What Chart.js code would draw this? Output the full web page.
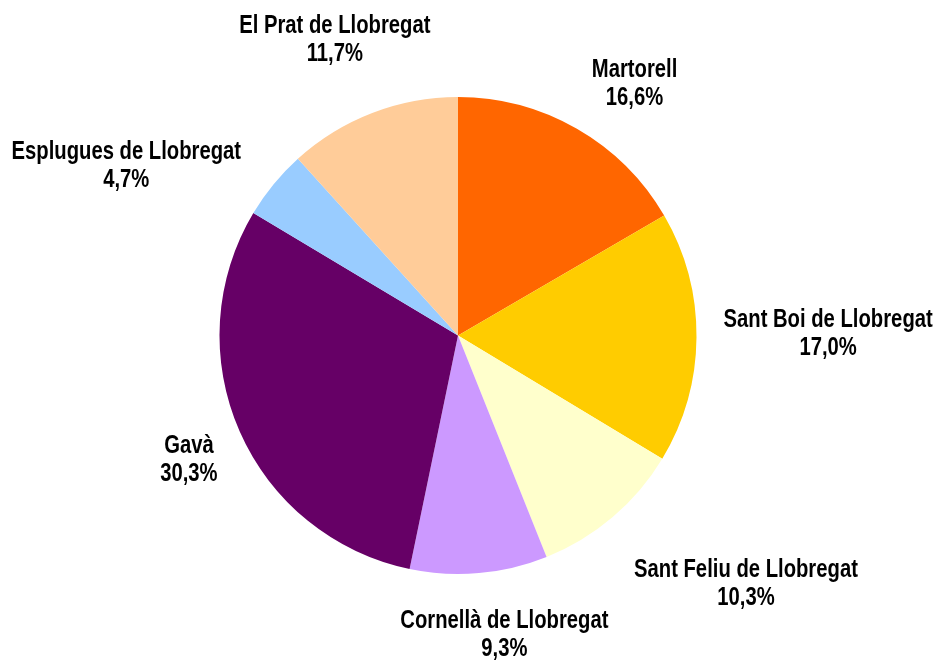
<!DOCTYPE html>
<html>
<head>
<meta charset="utf-8">
<script src="https://cdn.jsdelivr.net/npm/chart.js@4.4.1/dist/chart.umd.min.js"></script>
<style>
  html, body { margin: 0; padding: 0; background: #ffffff; }
  #wrap { width: 938px; height: 661px; }
</style>
</head>
<body>
<div id="wrap"><canvas id="pie" width="938" height="661"></canvas></div>
<script>
// municipis (sentit horari des de dalt)
var categories = ["Martorell", "Sant Boi de Llobregat", "Sant Feliu de Llobregat", "Cornellà de Llobregat", "Gavà", "Esplugues de Llobregat", "El Prat de Llobregat"];
var values = [16.6, 17.0, 10.3, 9.3, 30.3, 4.7, 11.7];
var colors = ["#ff6600", "#ffcc00", "#ffffcc", "#cc99ff", "#660066", "#99ccff", "#ffcc99"];

// petits desplaçaments manuals de les etiquetes (px)
var labelNudge = [[3, 0], [3, -4], [6, 27], [5, 10], [0, 8], [-14, 15], [40, -24]];

var labelFont = 'bold 25px "Liberation Sans", Arial, sans-serif';
var narrow = 0.81; //condensat tipus Arial Narrow

//etiquetes fora del pastís
var outsideLabels = {
    id: 'outsideLabels',
    afterDatasetsDraw: function(chart) {
        var ctx = chart.ctx;
        var meta = chart.getDatasetMeta(0);
        var lineH = 28;
        var gap = 24;
        ctx.save();
        ctx.font = labelFont;
        ctx.fillStyle = '#000000';
        ctx.textAlign = 'center';
        ctx.textBaseline = 'middle';
        var drawLine = function(txt, x, y) {
            ctx.save();
            ctx.translate(x, y);
            ctx.scale(narrow, 1);
            ctx.fillText(txt, 0, 0);
            ctx.restore();
        };
        meta.data.forEach(function(arc, i) {
            var p = arc.getProps(['x', 'y', 'startAngle', 'endAngle', 'outerRadius'], true);
            var mid = (p.startAngle + p.endAngle) / 2;
            var ux = Math.cos(mid), uy = Math.sin(mid);
            var line1 = categories[i];
            var line2 = values[i].toFixed(1).replace('.', ',') + '%';
            var w = Math.max(ctx.measureText(line1).width, ctx.measureText(line2).width) * narrow;
            var h = lineH * 2;
            var px = p.x + ux * (p.outerRadius + gap);
            var py = p.y + uy * (p.outerRadius + gap);
            var sx = Math.max(-1, Math.min(1, ux * 2));
            var cx = px + sx * w / 2 + labelNudge[i][0];
            var cy = py + uy * h / 2 + labelNudge[i][1];
            drawLine(line1, cx, cy - lineH / 2);
            drawLine(line2, cx, cy + lineH / 2);
        });
        ctx.restore();
    }
};

var ctx = document.getElementById('pie').getContext('2d');
var chart = new Chart(ctx, {
    type: 'pie',
    data: {
        labels: categories,
        datasets: [{
            data: values,
            backgroundColor: colors,
            borderWidth: 0
        }]
    },
    options: {
        responsive: false,
        animation: false,
        layout: { padding: { top: 97, bottom: 87, left: 0, right: 22 } },
        plugins: {
            legend: { display: false },
            tooltip: { enabled: false }
        }
    },
    plugins: [outsideLabels]
});
</script>
</body>
</html>
